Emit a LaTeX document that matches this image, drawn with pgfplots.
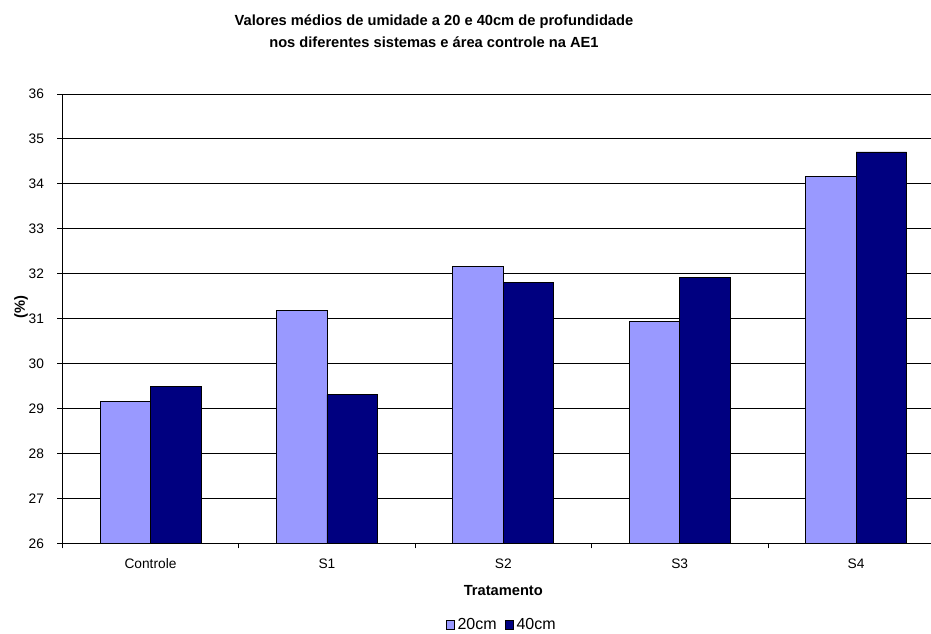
\documentclass[border=0pt]{standalone}
\usepackage{pgfplots}
\pgfplotsset{compat=1.18}
\usepackage{fontspec}
\setmainfont{Liberation Sans}

\definecolor{luz}{RGB}{153,153,255}
\definecolor{marinho}{RGB}{0,0,128}

% mean soil moisture (%) per treatment: index, 20 cm, 40 cm
\pgfplotstableread{
x   p20    p40
0.5 29.15  29.50
1.5 31.19  29.31
2.5 32.16  31.81
3.5 30.94  31.92
4.5 34.16  34.71
}\umidade

\begin{document}
\begin{tikzpicture}
\begin{axis}[
  name=ax,
  scale only axis,
  width=661.5pt, height=337pt,
  xmin=0, xmax=5, ymin=26, ymax=36,
  axis lines*=left,
  axis line style={-, black, line width=0.6pt},
  ymajorgrids,
  major grid style={black, line width=0.6pt},
  tick align=outside,
  major tick length=3.75pt,
  tick style={black, line width=0.6pt},
  ytick={26,...,36},
  xtick={0,...,5},
  xticklabels={},
  extra x ticks={0.5,1.5,2.5,3.5,4.5},
  extra x tick labels={Controle,S1,S2,S3,S4},
  extra x tick style={major tick length=0pt, grid=none,
    xticklabel style={yshift=-8pt}},
  ticklabel style={font=\fontsize{10.3}{12}\selectfont},
  yticklabel style={xshift=-6.5pt},
  /pgf/number format/assume math mode=true,
  xlabel={\textbf{Tratamento}},
  xlabel style={at={(axis description cs:0.5,-0.104)}, anchor=center,
    font=\fontsize{11}{13}\selectfont},
  ylabel={\textbf{(\%)}},
  ylabel style={at={(axis description cs:-0.0468,0.5266)}, anchor=center,
    font=\fontsize{11}{13}\selectfont},
  title={\textbf{Valores médios de umidade a 20 e 40cm de profundidade}\\
         \textbf{nos diferentes sistemas e área controle na AE1}},
  title style={at={(axis description cs:0.4214,1.1225)}, anchor=center,
    align=center, font=\fontsize{11}{16.2}\selectfont},
  ybar, bar width=0.286,
  legend columns=2,
  legend style={draw=none, at={(axis description cs:0.4985,-0.182)},
    anchor=center, font=\fontsize{12}{14}\selectfont,
    /tikz/every even column/.append style={column sep=4pt},
    inner sep=1pt},
  legend image code/.code={\draw[#1, draw=black, line width=0.5pt]
    (0pt,-3.2pt) rectangle (6.4pt,3.2pt);},
]
\addplot[fill=luz, draw=black, line width=0.6pt, bar shift=-0.143]
  table[x=x, y=p20] {\umidade};
\addplot[fill=marinho, draw=black, line width=0.6pt, bar shift=0.143]
  table[x=x, y=p40] {\umidade};
\legend{20cm, 40cm}
\end{axis}
% page: the plot runs on past the right edge of the sheet
\pgfresetboundingbox
\path ([shift={(-46.725pt,-68.025pt)}]ax.south west) rectangle ++(698.25pt,475.5pt);
\end{tikzpicture}
\end{document}
